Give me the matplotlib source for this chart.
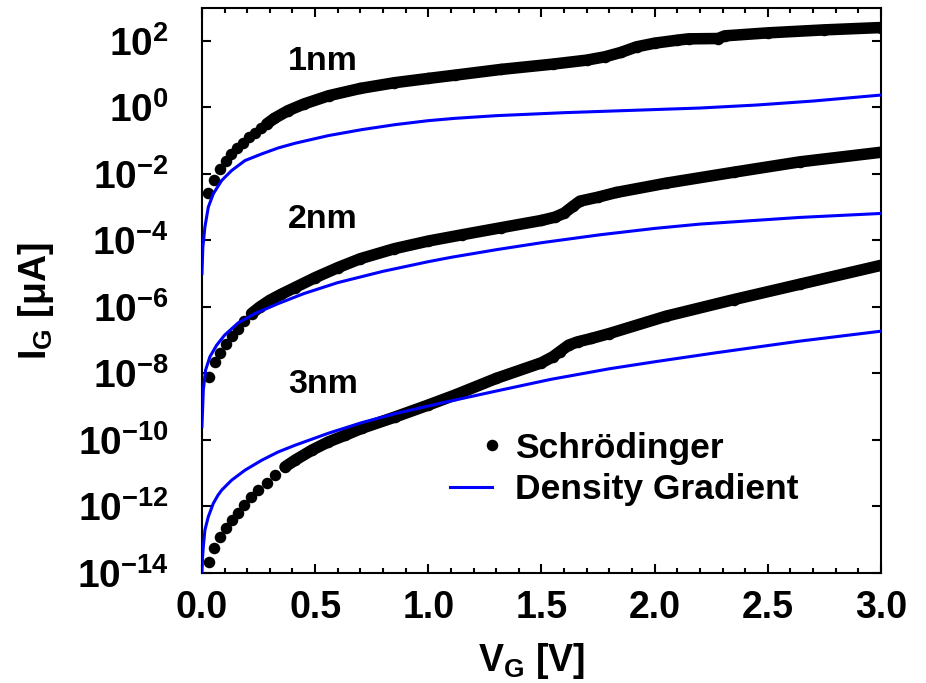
import numpy as np
import matplotlib
matplotlib.use("Agg")
import matplotlib.pyplot as plt
from matplotlib.ticker import MultipleLocator, FormatStrFormatter, NullLocator
from matplotlib.legend_handler import HandlerLine2D

plt.rcParams['font.family'] = ['Liberation Sans', 'DejaVu Sans']
plt.rcParams['font.weight'] = 'bold'
plt.rcParams['mathtext.fontset'] = 'custom'
plt.rcParams['mathtext.rm'] = 'Liberation Sans:bold'
plt.rcParams['mathtext.it'] = 'Liberation Sans:bold'
plt.rcParams['mathtext.bf'] = 'Liberation Sans:bold'
plt.rcParams['mathtext.default'] = 'bf'

# gate voltage [V] and log10(I_G [uA])

# Schrodinger (dots)
v_s1 = [0.026, 0.052, 0.078, 0.104, 0.130, 0.156, 0.182, 0.208, 0.234, 0.260,
        0.286, 0.32, 0.38, 0.45, 0.56, 0.70, 0.85, 1.00, 1.12, 1.32, 1.55,
        1.70, 1.78, 1.85, 1.92, 2.00, 2.10, 2.15, 2.28, 2.31, 2.50, 2.75, 3.00]
lg_s1 = [-2.58, -2.18, -1.86, -1.62, -1.41, -1.23, -1.06, -0.90, -0.76, -0.63,
         -0.50, -0.33, -0.10, 0.10, 0.35, 0.57, 0.74, 0.87, 0.97, 1.14, 1.30,
         1.42, 1.52, 1.65, 1.82, 1.93, 2.02, 2.06, 2.07, 2.15, 2.24, 2.33, 2.40]

v_s2 = [0.031, 0.057, 0.080, 0.105, 0.131, 0.158, 0.187, 0.219, 0.256, 0.30,
        0.35, 0.41, 0.50, 0.60, 0.70, 0.85, 1.00, 1.15, 1.32, 1.50, 1.56,
        1.60, 1.64, 1.67, 1.75, 1.83, 2.05, 2.35, 2.64, 3.00]
lg_s2 = [-8.10, -7.65, -7.38, -7.12, -6.88, -6.65, -6.42, -6.20, -6.00, -5.80,
         -5.62, -5.42, -5.12, -4.82, -4.55, -4.25, -4.02, -3.83, -3.62, -3.40, -3.30,
         -3.18, -2.97, -2.82, -2.70, -2.56, -2.28, -1.95, -1.64, -1.35]

v_s3 = [0.031, 0.054, 0.080, 0.105, 0.131, 0.158, 0.187, 0.217, 0.249, 0.286,
        0.323, 0.367, 0.411, 0.485, 0.558, 0.632, 0.706, 0.853, 1.00, 1.118,
        1.30, 1.50, 1.55, 1.58, 1.62, 1.66, 1.72, 1.80, 2.05, 2.35, 2.64, 3.00]
lg_s3 = [-13.66, -13.26, -12.93, -12.66, -12.41, -12.19, -11.96, -11.73, -11.51, -11.29,
         -11.06, -10.81, -10.61, -10.31, -10.06, -9.86, -9.65, -9.31, -8.95, -8.65,
         -8.15, -7.68, -7.50, -7.35, -7.15, -7.05, -6.95, -6.80, -6.28, -5.78, -5.32, -4.75]

# Density Gradient (lines)
v_d1 = [0.0, 0.004, 0.013, 0.028, 0.05, 0.087, 0.131, 0.19, 0.264, 0.337, 0.411, 0.558,
        0.706, 0.853, 1.0, 1.118, 1.3, 1.6, 1.9, 2.2, 2.45, 2.7, 3.0]
lg_d1 = [-5.0, -4.2, -3.6, -3.0, -2.60, -2.20, -1.90, -1.60, -1.40, -1.22, -1.08, -0.85,
         -0.67, -0.52, -0.40, -0.33, -0.25, -0.16, -0.09, -0.02, 0.07, 0.19, 0.37]

v_d2 = [0.0, 0.006, 0.016, 0.035, 0.065, 0.10, 0.16, 0.234, 0.337, 0.45, 0.60,
        0.80, 1.0, 1.1, 1.3, 1.5, 1.76, 2.0, 2.2, 2.64, 3.0]
lg_d2 = [-9.6, -8.5, -7.9, -7.5, -7.15, -6.85, -6.48, -6.20, -5.90, -5.60, -5.27,
         -4.93, -4.64, -4.51, -4.28, -4.07, -3.83, -3.64, -3.51, -3.31, -3.19]

v_d3 = [0.0, 0.003, 0.006, 0.013, 0.028, 0.05, 0.07, 0.087, 0.131, 0.19, 0.264, 0.337,
        0.411, 0.558, 0.706, 0.853, 1.0, 1.118, 1.3, 1.54, 1.8, 2.0, 2.27, 2.64, 3.0]
lg_d3 = [-13.96, -13.5, -13.21, -12.71, -12.31, -11.91, -11.67, -11.51, -11.21, -10.91,
         -10.61, -10.36, -10.16, -9.80, -9.48, -9.21, -8.98, -8.80, -8.53, -8.18, -7.86,
         -7.65, -7.38, -7.03, -6.73]

labels = ['1nm', '2nm', '3nm']
label_lg = [1.375, -3.37, -8.32]
y_exps = [-14, -12, -10, -8, -6, -4, -2, 0, 2]


class DotAtEnd(HandlerLine2D):
    # legend dot sits at the right end of the handle, as in the original
    def create_artists(self, *args, **kwargs):
        arts = super().create_artists(*args, **kwargs)
        arts[0].set_markevery([2])
        return arts


fig = plt.figure(figsize=(9.26, 6.83), dpi=100)
ax = fig.add_axes([0.2181, 0.1611, 0.7333, 0.8278])

ms = 8.3
series = [(v_s1, lg_s1, v_d1, lg_d1, 10), (v_s2, lg_s2, v_d2, lg_d2, 7),
          (v_s3, lg_s3, v_d3, lg_d3, 11)]
for v_s, lg_s, v_d, lg_d, k in series:
    i_s = 10.0 ** np.array(lg_s)
    dots, = ax.plot(v_s, i_s, 'o', color='black', ms=ms, mew=0, zorder=2)
    # the dots overlap into a solid band once the curve flattens
    ax.plot(v_s[k:], i_s[k:], '-', color='black', lw=ms, solid_capstyle='round',
            solid_joinstyle='round', zorder=2)
    dg, = ax.plot(v_d, 10.0 ** np.array(lg_d), color='#0000ff', lw=2.2, zorder=3)

for lab, lg in zip(labels, label_lg):
    ax.text(0.535, 10.0 ** lg, lab, ha='center', va='center', fontsize=24.5, fontweight='bold')

ax.set_yscale('log')
ax.set_xlim(0, 3.0)
ax.set_ylim(1e-14, 1e3)
ax.set_yticks([10.0 ** e for e in y_exps])
ax.set_yticklabels([r'$10^{%d}$' % e for e in y_exps])
ax.yaxis.set_minor_locator(NullLocator())
ax.xaxis.set_major_locator(MultipleLocator(0.5))
ax.xaxis.set_minor_locator(MultipleLocator(0.1))
ax.xaxis.set_major_formatter(FormatStrFormatter('%.1f'))

ax.tick_params(which='both', direction='in', top=True, right=True, width=1.5)
ax.tick_params(which='major', length=6.5)
ax.tick_params(which='minor', length=3.5)
ax.tick_params(axis='x', labelsize=27, pad=12)
ax.tick_params(axis='y', labelsize=28, pad=24)
for lbl in ax.get_xticklabels():
    lbl.set_fontweight('bold')
for s in ax.spines.values():
    s.set_linewidth(1.5)

ax.set_xlabel('V$_G$ [V]', fontsize=27, fontweight='bold')
ax.set_ylabel('I$_G$ [μA]', fontsize=27, fontweight='bold')
ax.xaxis.set_label_coords(0.485, -0.12)
ax.yaxis.set_label_coords(-0.215, 0.48)

ax.legend([dots, dg], ['Schrödinger', 'Density Gradient'], handler_map={dots: DotAtEnd()},
          loc='upper left', bbox_to_anchor=(0.365, 0.25), frameon=False, fontsize=25.5,
          handlelength=1.2, handletextpad=0.65, labelspacing=0.25, borderpad=0, borderaxespad=0)

fig.savefig('out.png', dpi=100)
